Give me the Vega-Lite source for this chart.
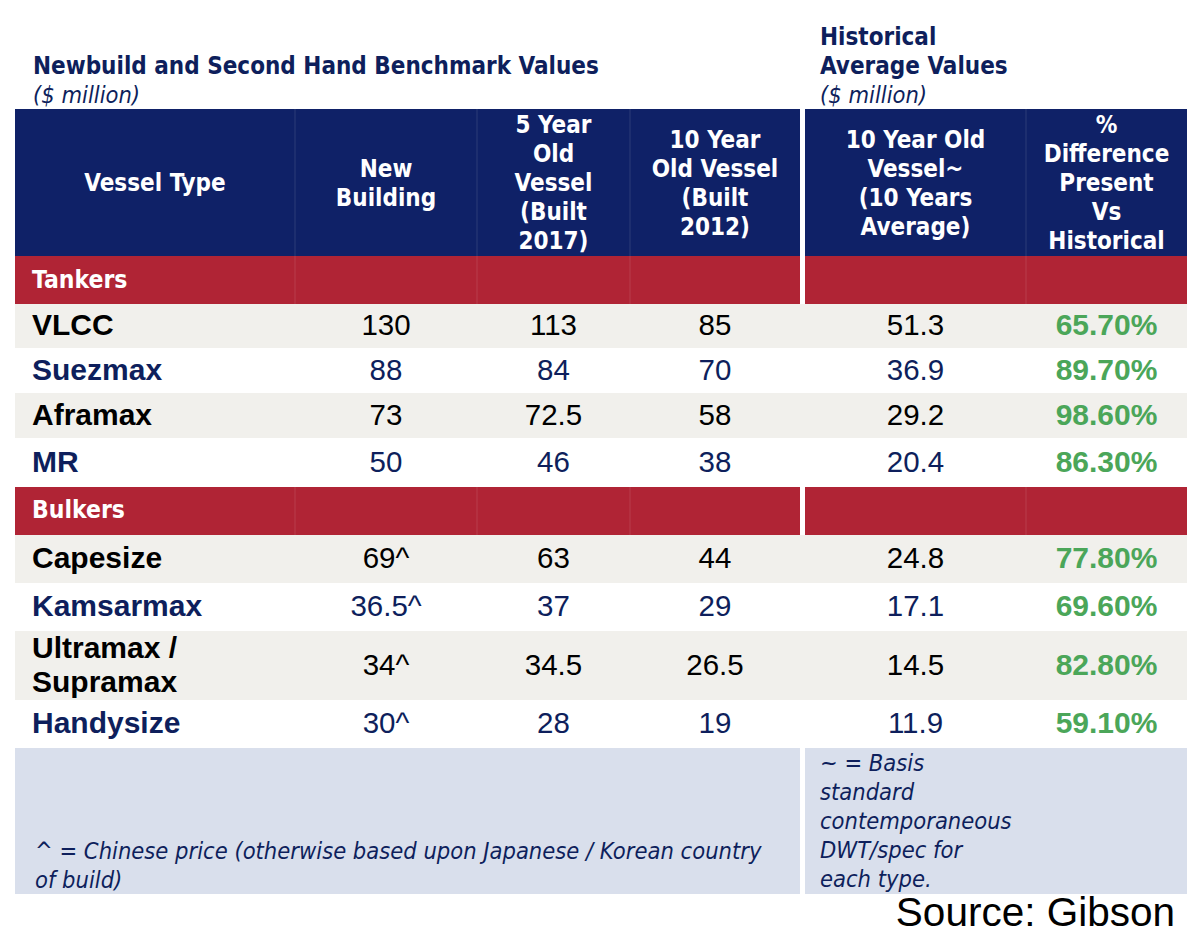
{
  "$schema": "https://vega.github.io/schema/vega-lite/v6.json",
  "width": 1200,
  "height": 944,
  "autosize": {"type": "none"},
  "padding": 0,
  "background": "#ffffff",
  "config": {"view": {"stroke": null}},
  "datasets": {
    "bands": [
      {"part": "header", "rowFrom": 0, "rowTo": 1, "colFrom": 0, "colTo": 4},
      {"part": "header", "rowFrom": 0, "rowTo": 1, "colFrom": 5, "colTo": 7},
      {"part": "section", "rowFrom": 1, "rowTo": 2, "colFrom": 0, "colTo": 4},
      {"part": "section", "rowFrom": 1, "rowTo": 2, "colFrom": 5, "colTo": 7},
      {"part": "stripe", "rowFrom": 2, "rowTo": 3, "colFrom": 0, "colTo": 7},
      {"part": "stripe", "rowFrom": 4, "rowTo": 5, "colFrom": 0, "colTo": 7},
      {"part": "section", "rowFrom": 6, "rowTo": 7, "colFrom": 0, "colTo": 4},
      {"part": "section", "rowFrom": 6, "rowTo": 7, "colFrom": 5, "colTo": 7},
      {"part": "stripe", "rowFrom": 7, "rowTo": 8, "colFrom": 0, "colTo": 7},
      {"part": "stripe", "rowFrom": 9, "rowTo": 10, "colFrom": 0, "colTo": 7},
      {"part": "footer", "rowFrom": 11, "rowTo": 12, "colFrom": 0, "colTo": 4},
      {"part": "footer", "rowFrom": 11, "rowTo": 12, "colFrom": 5, "colTo": 7}
    ],
    "dividers": [
      {"col": 1, "rowFrom": 0, "rowTo": 2},
      {"col": 2, "rowFrom": 0, "rowTo": 2},
      {"col": 3, "rowFrom": 0, "rowTo": 2},
      {"col": 6, "rowFrom": 0, "rowTo": 2},
      {"col": 1, "rowFrom": 6, "rowTo": 7},
      {"col": 2, "rowFrom": 6, "rowTo": 7},
      {"col": 3, "rowFrom": 6, "rowTo": 7},
      {"col": 6, "rowFrom": 6, "rowTo": 7}
    ],
    "sections": [
      {"section": "Tankers", "row": 1},
      {"section": "Bulkers", "row": 6}
    ],
    "vessels": [
      {"vessel": "VLCC", "group": "Tankers", "row": 2, "newbuild": 130, "chinese": false, "built2017": 113, "built2012": 85, "histAvg": 51.3, "pctDiff": 0.657},
      {"vessel": "Suezmax", "group": "Tankers", "row": 3, "newbuild": 88, "chinese": false, "built2017": 84, "built2012": 70, "histAvg": 36.9, "pctDiff": 0.897},
      {"vessel": "Aframax", "group": "Tankers", "row": 4, "newbuild": 73, "chinese": false, "built2017": 72.5, "built2012": 58, "histAvg": 29.2, "pctDiff": 0.986},
      {"vessel": "MR", "group": "Tankers", "row": 5, "newbuild": 50, "chinese": false, "built2017": 46, "built2012": 38, "histAvg": 20.4, "pctDiff": 0.863},
      {"vessel": "Capesize", "group": "Bulkers", "row": 7, "newbuild": 69, "chinese": true, "built2017": 63, "built2012": 44, "histAvg": 24.8, "pctDiff": 0.778},
      {"vessel": "Kamsarmax", "group": "Bulkers", "row": 8, "newbuild": 36.5, "chinese": true, "built2017": 37, "built2012": 29, "histAvg": 17.1, "pctDiff": 0.696},
      {"vessel": "Ultramax /\nSupramax", "group": "Bulkers", "row": 9, "newbuild": 34, "chinese": true, "built2017": 34.5, "built2012": 26.5, "histAvg": 14.5, "pctDiff": 0.828},
      {"vessel": "Handysize", "group": "Bulkers", "row": 10, "newbuild": 30, "chinese": true, "built2017": 28, "built2012": 19, "histAvg": 11.9, "pctDiff": 0.591}
    ]
  },
  "resolve": {"scale": {"y": "independent", "color": "independent"}},
  "layer": [
    {
      "layer": [
        {
          "data": {"name": "bands"},
          "mark": {"type": "rect"},
          "encoding": {
            "x": {"field": "colFrom", "type": "quantitative", "axis": null, "scale": {"domain": [0, 1, 2, 3, 4, 5, 6, 7], "range": [15, 295, 477, 630, 800, 805, 1026, 1187], "zero": false, "nice": false}},
            "x2": {"field": "colTo"},
            "y": {"field": "rowFrom", "type": "quantitative", "axis": null, "scale": {"domain": [0, 1, 2, 3, 4, 5, 6, 7, 8, 9, 10, 11, 12], "range": [109, 256, 304, 348, 393, 438, 487, 535, 583, 631, 700, 748, 894], "zero": false, "nice": false}},
            "y2": {"field": "rowTo"},
            "color": {"field": "part", "type": "nominal", "legend": null, "scale": {"domain": ["header", "section", "stripe", "footer"], "range": ["#0f2167", "#b02435", "#f1f0ec", "#d9dfec"]}}
          }
        },
        {
          "data": {"name": "dividers"},
          "mark": {"type": "rule", "color": "#ffffff", "opacity": 0.12, "strokeWidth": 1},
          "encoding": {
            "x": {"field": "col", "type": "quantitative", "axis": null, "scale": {"domain": [0, 1, 2, 3, 4, 5, 6, 7], "range": [15, 295, 477, 630, 800, 805, 1026, 1187], "zero": false, "nice": false}},
            "y": {"field": "rowFrom", "type": "quantitative", "axis": null, "scale": {"domain": [0, 1, 2, 3, 4, 5, 6, 7, 8, 9, 10, 11, 12], "range": [109, 256, 304, 348, 393, 438, 487, 535, 583, 631, 700, 748, 894], "zero": false, "nice": false}},
            "y2": {"field": "rowTo"}
          }
        }
      ]
    },
    {
      "layer": [
        {
          "data": {"values": [{"label": "Newbuild and Second Hand Benchmark Values", "line": -2}]},
          "mark": {"type": "text", "align": "left", "baseline": "middle", "dx": 18, "font": "DejaVu Sans Condensed", "fontWeight": "bold", "fontSize": 24, "color": "#0e1f5c"},
          "encoding": {
            "x": {"datum": 0, "type": "quantitative", "axis": null, "scale": {"domain": [0, 1, 2, 3, 4, 5, 6, 7], "range": [15, 295, 477, 630, 800, 805, 1026, 1187], "zero": false, "nice": false}},
            "y": {"field": "line", "type": "quantitative", "axis": null, "scale": {"domain": [-3, -2, -1, 0, 1, 2, 3, 4, 5, 6, 7, 8, 9, 10, 11, 12, 13], "range": [38, 67, 96, 184, 281, 326, 371, 416, 463, 511, 559, 607, 666, 724, 822, 866, 914], "zero": false, "nice": false}},
            "text": {"field": "label"}
          }
        },
        {
          "data": {"values": [{"label": "Historical", "line": -3}, {"label": "Average Values", "line": -2}]},
          "mark": {"type": "text", "align": "left", "baseline": "middle", "dx": 15, "font": "DejaVu Sans Condensed", "fontWeight": "bold", "fontSize": 24, "color": "#0e1f5c"},
          "encoding": {
            "x": {"datum": 5, "type": "quantitative"},
            "y": {"field": "line", "type": "quantitative"},
            "text": {"field": "label"}
          }
        },
        {
          "data": {"values": [{"label": "($ million)", "line": -1}]},
          "mark": {"type": "text", "align": "left", "baseline": "middle", "dx": 18, "font": "DejaVu Sans Condensed", "fontStyle": "italic", "fontSize": 23.5, "color": "#0e1f5c"},
          "encoding": {
            "x": {"datum": 0, "type": "quantitative"},
            "y": {"field": "line", "type": "quantitative"},
            "text": {"field": "label"}
          }
        },
        {
          "data": {"values": [{"label": "($ million)", "line": -1}]},
          "mark": {"type": "text", "align": "left", "baseline": "middle", "dx": 15, "font": "DejaVu Sans Condensed", "fontStyle": "italic", "fontSize": 23.5, "color": "#0e1f5c"},
          "encoding": {
            "x": {"datum": 5, "type": "quantitative"},
            "y": {"field": "line", "type": "quantitative"},
            "text": {"field": "label"}
          }
        },
        {
          "data": {"values": [{"label": "Vessel Type"}]},
          "mark": {"type": "text", "align": "center", "baseline": "middle", "lineBreak": "\n", "lineHeight": 29, "font": "DejaVu Sans Condensed", "fontWeight": "bold", "fontSize": 24, "color": "#ffffff"},
          "encoding": {"x": {"datum": 0.5, "type": "quantitative"}, "y": {"datum": 0, "type": "quantitative"}, "text": {"field": "label"}}
        },
        {
          "data": {"values": [{"label": "New\nBuilding"}]},
          "mark": {"type": "text", "align": "center", "baseline": "middle", "dy": -14.5, "lineBreak": "\n", "lineHeight": 29, "font": "DejaVu Sans Condensed", "fontWeight": "bold", "fontSize": 24, "color": "#ffffff"},
          "encoding": {"x": {"datum": 1.5, "type": "quantitative"}, "y": {"datum": 0, "type": "quantitative"}, "text": {"field": "label"}}
        },
        {
          "data": {"values": [{"label": "5 Year\nOld\nVessel\n(Built\n2017)"}]},
          "mark": {"type": "text", "align": "center", "baseline": "middle", "dy": -58, "lineBreak": "\n", "lineHeight": 29, "font": "DejaVu Sans Condensed", "fontWeight": "bold", "fontSize": 24, "color": "#ffffff"},
          "encoding": {"x": {"datum": 2.5, "type": "quantitative"}, "y": {"datum": 0, "type": "quantitative"}, "text": {"field": "label"}}
        },
        {
          "data": {"values": [{"label": "10 Year\nOld Vessel\n(Built\n2012)"}]},
          "mark": {"type": "text", "align": "center", "baseline": "middle", "dy": -43.5, "lineBreak": "\n", "lineHeight": 29, "font": "DejaVu Sans Condensed", "fontWeight": "bold", "fontSize": 24, "color": "#ffffff"},
          "encoding": {"x": {"datum": 3.5, "type": "quantitative"}, "y": {"datum": 0, "type": "quantitative"}, "text": {"field": "label"}}
        },
        {
          "data": {"values": [{"label": "10 Year Old\nVessel~\n(10 Years\nAverage)"}]},
          "mark": {"type": "text", "align": "center", "baseline": "middle", "dy": -43.5, "lineBreak": "\n", "lineHeight": 29, "font": "DejaVu Sans Condensed", "fontWeight": "bold", "fontSize": 24, "color": "#ffffff"},
          "encoding": {"x": {"datum": 5.5, "type": "quantitative"}, "y": {"datum": 0, "type": "quantitative"}, "text": {"field": "label"}}
        },
        {
          "data": {"values": [{"label": "%\nDifference\nPresent\nVs\nHistorical"}]},
          "mark": {"type": "text", "align": "center", "baseline": "middle", "dy": -58, "lineBreak": "\n", "lineHeight": 29, "font": "DejaVu Sans Condensed", "fontWeight": "bold", "fontSize": 24, "color": "#ffffff"},
          "encoding": {"x": {"datum": 6.5, "type": "quantitative"}, "y": {"datum": 0, "type": "quantitative"}, "text": {"field": "label"}}
        },
        {
          "data": {"name": "sections"},
          "mark": {"type": "text", "align": "left", "baseline": "middle", "dx": 17, "font": "DejaVu Sans Condensed", "fontWeight": "bold", "fontSize": 24.5, "color": "#ffffff"},
          "encoding": {"x": {"datum": 0, "type": "quantitative"}, "y": {"field": "row", "type": "quantitative"}, "text": {"field": "section"}}
        },
        {
          "data": {"name": "vessels"},
          "transform": [{"filter": "datum.row != 9"}],
          "mark": {"type": "text", "align": "left", "baseline": "middle", "dx": 17, "font": "Liberation Sans", "fontWeight": "bold", "fontSize": 30},
          "encoding": {
            "x": {"datum": 0, "type": "quantitative"},
            "y": {"field": "row", "type": "quantitative"},
            "text": {"field": "vessel"},
            "color": {"field": "vessel", "type": "nominal", "legend": null, "scale": {"domain": ["VLCC", "Suezmax", "Aframax", "MR", "Capesize", "Kamsarmax", "Ultramax /\nSupramax", "Handysize"], "range": ["#000000", "#0e1f5c", "#000000", "#0e1f5c", "#000000", "#0e1f5c", "#000000", "#0e1f5c"]}}
          }
        },
        {
          "data": {"name": "vessels"},
          "transform": [{"filter": "datum.row == 9"}],
          "mark": {"type": "text", "align": "left", "baseline": "middle", "dx": 17, "dy": -17, "lineBreak": "\n", "lineHeight": 34, "font": "Liberation Sans", "fontWeight": "bold", "fontSize": 30},
          "encoding": {
            "x": {"datum": 0, "type": "quantitative"},
            "y": {"field": "row", "type": "quantitative"},
            "text": {"field": "vessel"},
            "color": {"field": "vessel", "type": "nominal"}
          }
        },
        {
          "data": {"name": "vessels"},
          "mark": {"type": "text", "align": "center", "baseline": "middle", "font": "Liberation Sans", "fontSize": 29.5, "text": {"expr": "datum.newbuild + (datum.chinese ? '^' : '')"}},
          "encoding": {
            "x": {"datum": 1.5, "type": "quantitative"},
            "y": {"field": "row", "type": "quantitative"},
            "color": {"field": "vessel", "type": "nominal"}
          }
        },
        {
          "data": {"name": "vessels"},
          "mark": {"type": "text", "align": "center", "baseline": "middle", "font": "Liberation Sans", "fontSize": 29.5},
          "encoding": {
            "x": {"datum": 2.5, "type": "quantitative"},
            "y": {"field": "row", "type": "quantitative"},
            "text": {"field": "built2017", "type": "nominal"},
            "color": {"field": "vessel", "type": "nominal"}
          }
        },
        {
          "data": {"name": "vessels"},
          "mark": {"type": "text", "align": "center", "baseline": "middle", "font": "Liberation Sans", "fontSize": 29.5},
          "encoding": {
            "x": {"datum": 3.5, "type": "quantitative"},
            "y": {"field": "row", "type": "quantitative"},
            "text": {"field": "built2012", "type": "nominal"},
            "color": {"field": "vessel", "type": "nominal"}
          }
        },
        {
          "data": {"name": "vessels"},
          "mark": {"type": "text", "align": "center", "baseline": "middle", "font": "Liberation Sans", "fontSize": 29.5},
          "encoding": {
            "x": {"datum": 5.5, "type": "quantitative"},
            "y": {"field": "row", "type": "quantitative"},
            "text": {"field": "histAvg", "type": "nominal"},
            "color": {"field": "vessel", "type": "nominal"}
          }
        },
        {
          "data": {"name": "vessels"},
          "mark": {"type": "text", "align": "center", "baseline": "middle", "font": "Liberation Sans", "fontWeight": "bold", "fontSize": 30, "color": "#4ba659"},
          "encoding": {
            "x": {"datum": 6.5, "type": "quantitative"},
            "y": {"field": "row", "type": "quantitative"},
            "text": {"field": "pctDiff", "type": "quantitative", "format": ".2%"}
          }
        },
        {
          "data": {"values": [{"label": "^ = Chinese price (otherwise based upon Japanese / Korean country\nof build)", "line": 12}]},
          "mark": {"type": "text", "align": "left", "baseline": "middle", "dx": 20, "dy": -14.5, "lineBreak": "\n", "lineHeight": 29, "font": "DejaVu Sans Condensed", "fontStyle": "italic", "fontSize": 23.5, "color": "#0e1f5c"},
          "encoding": {"x": {"datum": 0, "type": "quantitative"}, "y": {"field": "line", "type": "quantitative"}, "text": {"field": "label"}}
        },
        {
          "data": {"values": [{"label": "~ = Basis\nstandard\ncontemporaneous\nDWT/spec for\neach type.", "line": 11}]},
          "mark": {"type": "text", "align": "left", "baseline": "middle", "dx": 15, "dy": -58, "lineBreak": "\n", "lineHeight": 29, "font": "DejaVu Sans Condensed", "fontStyle": "italic", "fontSize": 23.5, "color": "#0e1f5c"},
          "encoding": {"x": {"datum": 5, "type": "quantitative"}, "y": {"field": "line", "type": "quantitative"}, "text": {"field": "label"}}
        },
        {
          "data": {"values": [{"label": "Source: Gibson", "line": 13}]},
          "mark": {"type": "text", "align": "right", "baseline": "middle", "dx": -12, "font": "Liberation Sans", "fontSize": 40.5, "color": "#000000"},
          "encoding": {"x": {"datum": 7, "type": "quantitative"}, "y": {"field": "line", "type": "quantitative"}, "text": {"field": "label"}}
        }
      ]
    }
  ]
}
